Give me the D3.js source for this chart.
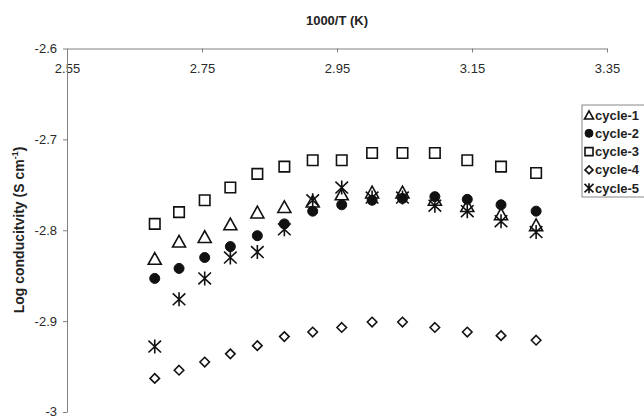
<!DOCTYPE html>
<html>
<head>
<meta charset="utf-8">
<script src="https://cdn.jsdelivr.net/npm/d3@7/dist/d3.min.js"></script>
<style>
  html, body { margin: 0; padding: 0; background: #fff; }
  svg { display: block; font-family: "Liberation Sans", Arial, sans-serif; }
  .axis path, .axis line { stroke: #808080; stroke-width: 1; }
  .axis text { fill: #2a2a2a; font-size: 13px; font-family: "Liberation Sans", Arial, sans-serif; }
</style>
</head>
<body>
<svg id="chart" width="644" height="419"></svg>
<script>
// Inverse temperature, 1000/T (K^-1), measured from 100 °C down to 35 °C
const invT = [2.680, 2.716, 2.754, 2.792, 2.832, 2.872, 2.914, 2.957, 3.002, 3.047, 3.095, 3.143, 3.193, 3.245];

// Log conductivity (S cm^-1) for each heating cycle
const cycle1 = [-2.831, -2.812, -2.807, -2.793, -2.780, -2.774, -2.768, -2.760, -2.758, -2.758, -2.766, -2.773, -2.782, -2.794];
const cycle2 = [-2.853, -2.842, -2.830, -2.818, -2.806, -2.793, -2.779, -2.772, -2.767, -2.765, -2.763, -2.766, -2.772, -2.779];
const cycle3 = [-2.793, -2.780, -2.767, -2.753, -2.738, -2.730, -2.723, -2.723, -2.715, -2.715, -2.715, -2.723, -2.730, -2.737];
const cycle4 = [-2.963, -2.954, -2.945, -2.936, -2.927, -2.917, -2.912, -2.907, -2.901, -2.901, -2.907, -2.912, -2.916, -2.921];
const cycle5 = [-2.928, -2.876, -2.853, -2.830, -2.824, -2.799, -2.767, -2.753, -2.764, -2.764, -2.773, -2.779, -2.790, -2.802];

const seriesNames = ["cycle-1", "cycle-2", "cycle-3", "cycle-4", "cycle-5"];
const seriesShapes = ["triangle", "circle", "square", "diamond", "asterisk"];
const seriesValues = [cycle1, cycle2, cycle3, cycle4, cycle5];

const xTicks = [2.55, 2.75, 2.95, 3.15, 3.35];
const xTickLabels = ["2.55", "2.75", "2.95", "3.15", "3.35"];
const yTicks = [-2.6, -2.7, -2.8, -2.9, -3.0];
const yTickLabels = ["-2.6", "-2.7", "-2.8", "-2.9", "-3"];

const xTitle = "1000/T (K)";

const svg = d3.select("#chart");

const x = d3.scaleLinear().domain([2.55, 3.35]).range([67, 607]);
const y = d3.scaleLinear().domain([-2.6, -3.0]).range([48.5, 412]);

// Marker path generators, centred on (0,0)
function markerPath(shape, s) {
  const p = d3.path();
  if (shape === "triangle") {
    const h = s * 0.9;
    p.moveTo(0, -h / 2); p.lineTo(s / 2, h / 2); p.lineTo(-s / 2, h / 2); p.closePath();
  } else if (shape === "square") {
    p.rect(-s / 2, -s / 2, s, s);
  } else if (shape === "diamond") {
    const r = s / 2;
    p.moveTo(0, -r); p.lineTo(r, 0); p.lineTo(0, r); p.lineTo(-r, 0); p.closePath();
  } else if (shape === "circle") {
    p.arc(0, 0, s / 2, 0, 2 * Math.PI);
  } else if (shape === "asterisk") {
    const r = s / 2;
    p.moveTo(0, -r); p.lineTo(0, r);
    p.moveTo(-r * 0.9, -r * 0.85); p.lineTo(r * 0.9, r * 0.85);
    p.moveTo(-r * 0.9, r * 0.85); p.lineTo(r * 0.9, -r * 0.85);
  }
  return p.toString();
}

const markerSize = { triangle: 13, circle: 10, square: 10.5, diamond: 9.5, asterisk: 14 };
const legendSize = { triangle: 9, circle: 8, square: 8, diamond: 8, asterisk: 10 };

function styleMarker(sel, shape) {
  if (shape === "circle") {
    sel.attr("fill", "#111").attr("stroke", "#111").attr("stroke-width", 1);
  } else {
    sel.attr("fill", shape === "asterisk" ? "none" : "#fff")
       .attr("stroke", "#111").attr("stroke-width", 1.6);
  }
}

// Top axis (x axis crosses the y axis at -2.6)
const xAxis = d3.axisBottom(x)
  .tickValues(xTicks)
  .tickFormat((d, i) => xTickLabels[i])
  .tickSize(4)
  .tickPadding(11)
  .tickSizeOuter(0);
svg.append("g").attr("class", "axis")
  .attr("transform", `translate(0,${y(-2.6)})`)
  .call(xAxis);

// Left axis
const yAxis = d3.axisLeft(y)
  .tickValues(yTicks)
  .tickFormat((d, i) => yTickLabels[i])
  .tickSize(4)
  .tickPadding(6)
  .tickSizeOuter(0);
const yAxisG = svg.append("g").attr("class", "axis")
  .attr("transform", `translate(${x(2.55)},0)`)
  .call(yAxis);
yAxisG.selectAll("text").attr("dy", "0.3em");

// Axis titles
svg.append("text")
  .attr("x", (x(2.55) + x(3.35)) / 2)
  .attr("y", 25)
  .attr("text-anchor", "middle")
  .attr("font-size", 13)
  .attr("font-weight", "bold")
  .attr("fill", "#222")
  .text(xTitle);

const yTitle = svg.append("text")
  .attr("transform", "translate(24,230) rotate(-90)")
  .attr("text-anchor", "middle")
  .attr("font-size", 14)
  .attr("font-weight", "bold")
  .attr("fill", "#222");
yTitle.append("tspan").text("Log conducitvity (S cm");
yTitle.append("tspan").attr("font-size", 9).attr("dy", -6).text("-1");
yTitle.append("tspan").attr("dy", 6).text(")");

// Data markers
seriesValues.forEach((vals, si) => {
  const shape = seriesShapes[si];
  const g = svg.append("g").attr("class", "series " + seriesNames[si]);
  g.selectAll("path")
    .data(vals.map((v, i) => [invT[i], v]))
    .join("path")
    .attr("transform", d => `translate(${x(d[0])},${y(d[1])})`)
    .attr("d", markerPath(shape, markerSize[shape]))
    .call(styleMarker, shape);
});

// Legend
const legend = svg.append("g").attr("transform", "translate(582,105)");
legend.append("rect")
  .attr("x", 0).attr("y", 0).attr("width", 80).attr("height", 92)
  .attr("fill", "#fff").attr("stroke", "#888").attr("stroke-width", 1);
seriesNames.forEach((name, i) => {
  const cy = 10 + i * 18.3;
  const shape = seriesShapes[i];
  legend.append("path")
    .attr("transform", `translate(7,${cy})`)
    .attr("d", markerPath(shape, legendSize[shape]))
    .call(styleMarker, shape);
  legend.append("text")
    .attr("x", 13).attr("y", cy + 4.5)
    .attr("font-size", 13).attr("font-weight", "bold").attr("fill", "#222")
    .text(name);
});
</script>
</body>
</html>
